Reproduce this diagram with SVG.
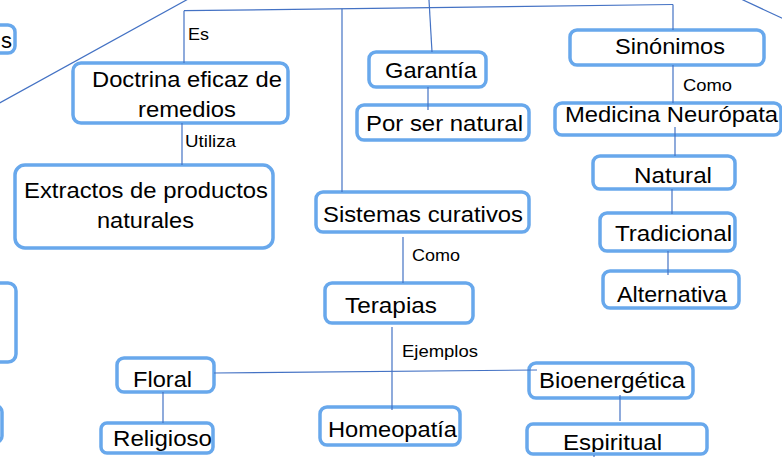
<svg xmlns="http://www.w3.org/2000/svg" width="782" height="457" viewBox="0 0 782 457">
<style>
.box{fill:#ffffff;stroke:#68a8ec;stroke-width:3.5}
.t{font-family:"Liberation Sans",Arial,sans-serif;font-size:22px;fill:#000}
.s{font-family:"Liberation Sans",Arial,sans-serif;font-size:17px;fill:#000}
.c{stroke:#4472c4;stroke-width:1.2;fill:none}
</style>
<defs>
<clipPath id="clipEsp"><rect x="527" y="424" width="180" height="28"/></clipPath>
</defs>
<rect width="782" height="457" fill="#ffffff"/>

<g id="node-s"><rect class="box" x="-20" y="25" width="35" height="28" rx="7"/><text class="t" x="12" y="48" text-anchor="end">s</text></g>
<g id="node-doctrina"><rect class="box" x="73" y="63" width="215" height="60" rx="8"/>
<text class="t" x="92" y="87" textLength="190" lengthAdjust="spacingAndGlyphs">Doctrina eficaz de</text>
<text class="t" x="138" y="117" textLength="98" lengthAdjust="spacingAndGlyphs">remedios</text></g>
<g id="node-extractos"><rect class="box" x="15" y="165" width="258" height="83" rx="10"/>
<text class="t" x="24" y="198" textLength="244" lengthAdjust="spacingAndGlyphs">Extractos de productos</text>
<text class="t" x="97" y="228" textLength="97" lengthAdjust="spacingAndGlyphs">naturales</text></g>
<g id="node-left1"><rect class="box" x="-20" y="283" width="36" height="79" rx="8"/></g>
<g id="node-left2"><rect class="box" x="-20" y="406" width="22" height="36" rx="6"/></g>
<g id="node-garantia"><rect class="box" x="369" y="52" width="117" height="35" rx="7"/>
<text class="t" x="385" y="78" textLength="92" lengthAdjust="spacingAndGlyphs">Garantía</text></g>
<g id="node-porser"><rect class="box" x="357" y="105" width="172" height="35" rx="7"/>
<text class="t" x="366" y="131" textLength="157" lengthAdjust="spacingAndGlyphs">Por ser natural</text></g>
<g id="node-sinonimos"><rect class="box" x="570" y="30" width="194" height="35" rx="7"/>
<text class="t" x="615" y="54" textLength="110" lengthAdjust="spacingAndGlyphs">Sinónimos</text></g>
<g id="node-medicina"><rect class="box" x="555" y="103" width="226" height="32" rx="7"/>
<text class="t" x="565" y="122" textLength="213" lengthAdjust="spacingAndGlyphs">Medicina Neurópata</text></g>
<g id="node-natural"><rect class="box" x="593" y="156" width="142" height="33" rx="7"/>
<text class="t" x="634" y="183" textLength="78" lengthAdjust="spacingAndGlyphs">Natural</text></g>
<g id="node-tradicional"><rect class="box" x="600" y="213" width="135" height="38" rx="7"/>
<text class="t" x="615" y="241" textLength="117" lengthAdjust="spacingAndGlyphs">Tradicional</text></g>
<g id="node-alternativa"><rect class="box" x="603" y="271" width="136" height="37" rx="7"/>
<text class="t" x="617" y="302" textLength="110" lengthAdjust="spacingAndGlyphs">Alternativa</text></g>
<g id="node-sistemas"><rect class="box" x="316" y="192" width="213" height="40" rx="7"/>
<text class="t" x="323" y="222" textLength="200" lengthAdjust="spacingAndGlyphs">Sistemas curativos</text></g>
<g id="node-terapias"><rect class="box" x="325" y="283" width="148" height="40" rx="7"/>
<text class="t" x="345" y="313" textLength="92" lengthAdjust="spacingAndGlyphs">Terapias</text></g>
<g id="node-floral"><rect class="box" x="117" y="358" width="97" height="34" rx="7"/>
<text class="t" x="133" y="387" textLength="59" lengthAdjust="spacingAndGlyphs">Floral</text></g>
<g id="node-religioso"><rect class="box" x="101" y="423" width="112" height="30" rx="6"/>
<text class="t" x="113" y="446" textLength="99" lengthAdjust="spacingAndGlyphs">Religioso</text></g>
<g id="node-homeopatia"><rect class="box" x="320" y="407" width="140" height="38" rx="7"/>
<text class="t" x="328" y="437" textLength="129" lengthAdjust="spacingAndGlyphs">Homeopatía</text></g>
<g id="node-bioenergetica"><rect class="box" x="529" y="363" width="164" height="35" rx="7"/>
<text class="t" x="539" y="388" textLength="146" lengthAdjust="spacingAndGlyphs">Bioenergética</text></g>
<g id="node-espiritual"><rect class="box" x="527" y="424" width="180" height="30" rx="6"/>
<text class="t" x="563" y="450" textLength="99" lengthAdjust="spacingAndGlyphs" clip-path="url(#clipEsp)">Espiritual</text></g>

<g id="connectors">
<line class="c" x1="190" y1="-2" x2="-4" y2="105"/>
<line class="c" x1="741" y1="-1" x2="786" y2="20"/>
<line class="c" x1="184" y1="10.7" x2="673" y2="4.5"/>
<line class="c" x1="184" y1="10.7" x2="184" y2="63"/>
<line class="c" x1="342" y1="8.7" x2="342" y2="192"/>
<line class="c" x1="429" y1="0" x2="432" y2="52"/>
<line class="c" x1="673" y1="4.5" x2="673" y2="30"/>
<line class="c" x1="182" y1="123" x2="182" y2="165"/>
<line class="c" x1="428" y1="87" x2="428" y2="110"/>
<line class="c" x1="673" y1="65" x2="673" y2="103"/>
<line class="c" x1="675" y1="127" x2="675" y2="156"/>
<line class="c" x1="672" y1="189" x2="672" y2="214"/>
<line class="c" x1="668" y1="251" x2="668" y2="275"/>
<line class="c" x1="403" y1="237" x2="403" y2="283"/>
<line class="c" x1="392" y1="327" x2="392" y2="410"/>
<line class="c" x1="214" y1="373" x2="537" y2="370"/>
<line class="c" x1="163" y1="392" x2="163" y2="423"/>
<line class="c" x1="620" y1="395" x2="620" y2="421"/>
<line class="c" x1="594" y1="455" x2="594" y2="458"/>
<text class="s" x="188" y="39.5" textLength="21" lengthAdjust="spacingAndGlyphs">Es</text>
<text class="s" x="185" y="147" textLength="51" lengthAdjust="spacingAndGlyphs">Utiliza</text>
<text class="s" x="683" y="91" textLength="49" lengthAdjust="spacingAndGlyphs">Como</text>
<text class="s" x="412" y="261" textLength="48" lengthAdjust="spacingAndGlyphs">Como</text>
<text class="s" x="402" y="357" textLength="76" lengthAdjust="spacingAndGlyphs">Ejemplos</text>
</g>
</svg>
